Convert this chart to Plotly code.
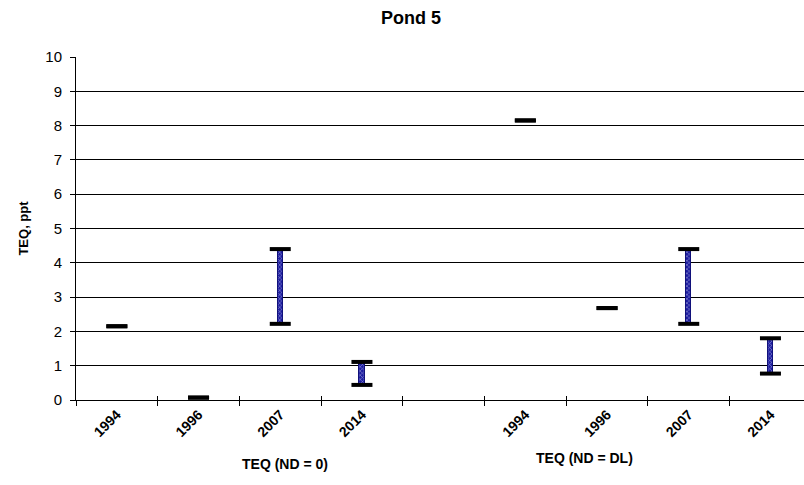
import plotly.graph_objects as go

categories = ["1994", "1996", "2007", "2014", "", "1994", "1996", "2007", "2014"]
teq_min = [2.15, 0.07, 2.22, 0.44, None, 8.15, 2.68, 2.22, 0.77]
teq_max = [2.15, 0.07, 4.40, 1.11, None, 8.15, 2.68, 4.40, 1.80]
group_labels = ["TEQ (ND = 0)", "TEQ (ND = DL)"]
y_ticks = list(range(0, 11))

FONT = "Arial, Liberation Sans, sans-serif"
xs = list(range(len(categories)))

bar_x, bar_base, bar_h = [], [], []
cap_x, cap_y = [], []
for i, (lo, hi) in enumerate(zip(teq_min, teq_max)):
    if lo is None:
        continue
    if hi > lo:
        bar_x.append(i)
        bar_base.append(lo)
        bar_h.append(hi - lo)
    cap_x += [i, i]
    cap_y += [lo, hi]

L, R, T, B = 76, 0, 57, 85
W, H = 804, 485
PW, PH = W - L - R, H - T - B
CAT_PX = 81.7
xrange_ = [-0.5, -0.5 + PW / CAT_PX]

fig = go.Figure()
fig.add_trace(go.Bar(
    x=bar_x, y=bar_h, base=bar_base, width=0.065,
    marker=dict(color="#2a2aa8", line=dict(width=1, color="#10107a"),
                pattern=dict(shape="x", fgcolor="#ffffff", bgcolor="#1c1ca0",
                             size=3, solidity=0.35, fillmode="overlay")),
    showlegend=False, hoverinfo="skip"))
fig.add_trace(go.Scatter(
    x=cap_x, y=cap_y, mode="markers",
    marker=dict(symbol="line-ew-open", size=15, color="black",
                line=dict(width=4, color="black")),
    showlegend=False, hoverinfo="skip"))
# invisible trace to activate overlay axes (inside halves of crossing ticks)
fig.add_trace(go.Scatter(x=[None], y=[None], xaxis="x2", yaxis="y2",
                         showlegend=False, hoverinfo="skip"))

boundaries = [i - 0.5 for i in range(len(categories) + 1)]

fig.update_layout(
    width=W, height=H,
    margin=dict(l=L, r=R, t=T, b=B),
    paper_bgcolor="white", plot_bgcolor="white",
    font=dict(family=FONT, color="black"),
    bargap=0,
    title=dict(text="<b>Pond 5</b>", x=411 / W, xanchor="center",
               y=1 - 18 / H, yanchor="middle",
               font=dict(size=18, family=FONT, color="black")),
    xaxis=dict(
        range=xrange_,
        tickmode="array", tickvals=xs, ticktext=[f"<b>{c}</b>" for c in categories],
        tickangle=-45, ticks="", tickfont=dict(size=14, family=FONT, color="black"),
        showline=True, linecolor="black", linewidth=1, showgrid=False, zeroline=False,
        minor=dict(tickvals=boundaries, ticks="outside", ticklen=5,
                   tickcolor="black", tickwidth=1, showgrid=False),
    ),
    xaxis2=dict(
        range=xrange_, overlaying="x", side="bottom",
        tickmode="array", tickvals=boundaries, ticks="inside", ticklen=4,
        tickcolor="black", showticklabels=False, showgrid=False, zeroline=False,
        showline=False,
    ),
    yaxis=dict(
        range=[0, 10], tickmode="array", tickvals=y_ticks,
        ticks="outside", ticklen=5, tickcolor="black",
        tickfont=dict(size=15, family=FONT, color="black"),
        ticklabelstandoff=5,
        showline=True, linecolor="black", linewidth=1,
        showgrid=True, gridcolor="black", gridwidth=1, zeroline=False,
        title=dict(text="<b>TEQ, ppt</b>", font=dict(size=13, family=FONT, color="black"),
                   standoff=13),
    ),
    yaxis2=dict(
        range=[0, 10], overlaying="y", side="left",
        tickmode="array", tickvals=y_ticks, ticks="inside", ticklen=4,
        tickcolor="black", showticklabels=False, showgrid=False, zeroline=False,
        showline=False,
    ),
)

fig.add_annotation(text=f"<b>{group_labels[0]}</b>", x=(240 - L) / PW, y=(H - B - 474) / PH,
                   xref="paper", yref="paper", showarrow=False,
                   font=dict(size=14, family=FONT, color="black"))
fig.add_annotation(text=f"<b>{group_labels[1]}</b>", x=(635 - L) / PW, y=(H - B - 468) / PH,
                   xref="paper", yref="paper", showarrow=False,
                   font=dict(size=14, family=FONT, color="black"))

fig.write_html("out.html")
